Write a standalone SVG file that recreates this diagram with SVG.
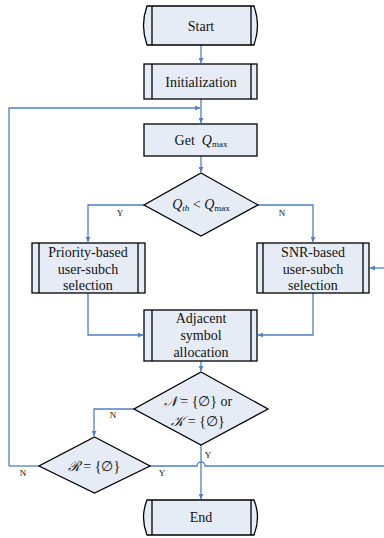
<svg xmlns="http://www.w3.org/2000/svg" width="384" height="538" viewBox="0 0 384 538">
<defs>
<marker id="ah" viewBox="0 0 10 10" refX="10" refY="5" markerWidth="5" markerHeight="5" orient="auto" markerUnits="userSpaceOnUse">
<path d="M0,0 L10,5 L0,10 Z" fill="#4f7fc6"/>
</marker>
<style>
.n{fill:#e6ecf6;stroke:#000;stroke-width:1.3}
.in{stroke:#000;stroke-width:1.3;fill:none}
.c{fill:none;stroke:#4f7fc6;stroke-width:1.3}
.t{font-family:"Liberation Serif","Times New Roman",serif;font-size:14px;fill:#111;text-anchor:middle}
.m{font-family:"Liberation Serif","Times New Roman",serif;font-style:italic}
.s{font-family:"Liberation Serif","Times New Roman",serif;font-size:9px;fill:#111;text-anchor:middle}
</style>
</defs>
<rect width="384" height="538" fill="#fff"/>
<g id="connectors">
<path class="c" d="M201,45 V63" marker-end="url(#ah)"/>
<path class="c" d="M201,99 V123" marker-end="url(#ah)"/>
<path class="c" d="M9,466 V108 H200" marker-end="url(#ah)"/>
<path class="c" d="M201,156 V172" marker-end="url(#ah)"/>
<path class="c" d="M144,205 H88 V242" marker-end="url(#ah)"/>
<path class="c" d="M258,205 H313 V242" marker-end="url(#ah)"/>
<path class="c" d="M88,293 V335 H143" marker-end="url(#ah)"/>
<path class="c" d="M313,293 V335 H258" marker-end="url(#ah)"/>
<path class="c" d="M384,268 H370" marker-end="url(#ah)"/>
<path class="c" d="M201,361 V371" marker-end="url(#ah)"/>
<path class="c" d="M134,409 H94 V436" marker-end="url(#ah)"/>
<path class="c" d="M201,445 V499" marker-end="url(#ah)"/>
<path class="c" d="M39,466 H9"/>
<path class="c" d="M150,466 H197 A4,4 0 0 1 205,466 H384"/>
<text class="s" x="120" y="216">Y</text>
<text class="s" x="282" y="216">N</text>
<text class="s" x="113" y="418">N</text>
<text class="s" x="208" y="458">Y</text>
<text class="s" x="23" y="476">N</text>
<text class="s" x="162" y="476">Y</text>
</g>
<g id="start">
<path class="n" d="M147,6 H254 Q261,25.5 254,45 H147 Q140,25.5 147,6 Z"/>
<path class="in" d="M152,6 V45 M251,6 V45"/>
<text class="t" x="201" y="31">Start</text>
</g>
<g id="init">
<rect class="n" x="144" y="64" width="113" height="35"/>
<path class="in" d="M152,64 V99 M251,64 V99"/>
<text class="t" x="201" y="87">Initialization</text>
</g>
<g id="getq">
<rect class="n" x="144" y="124" width="113" height="32"/>
<text class="t" x="201" y="145">Get&#160; <tspan class="m">Q</tspan><tspan font-size="9px" dy="2">max</tspan></text>
</g>
<g id="dec1">
<path class="n" d="M201,173 L258,205 L201,236 L144,205 Z"/>
<text class="t" x="201" y="209"><tspan class="m">Q</tspan><tspan class="m" font-size="9px" dy="2">th</tspan><tspan dy="-2"> &lt; </tspan><tspan class="m">Q</tspan><tspan font-size="9px" dy="2">max</tspan></text>
</g>
<g id="prio">
<rect class="n" x="32" y="243" width="113" height="50"/>
<path class="in" d="M39,243 V293 M138,243 V293"/>
<text class="t" x="88" y="257">Priority-based</text>
<text class="t" x="88" y="274">user-subch</text>
<text class="t" x="88" y="290">selection</text>
</g>
<g id="snr">
<rect class="n" x="257" y="243" width="112" height="50"/>
<path class="in" d="M263,243 V293 M363,243 V293"/>
<text class="t" x="313" y="257">SNR-based</text>
<text class="t" x="313" y="274">user-subch</text>
<text class="t" x="313" y="290">selection</text>
</g>
<g id="adj">
<rect class="n" x="144" y="310" width="113" height="51"/>
<path class="in" d="M152,310 V361 M251,310 V361"/>
<text class="t" x="201" y="323">Adjacent</text>
<text class="t" x="201" y="340">symbol</text>
<text class="t" x="201" y="357">allocation</text>
</g>
<g id="dec2">
<path class="n" d="M201,372 L268,409 L201,445 L134,409 Z"/>
<text class="t" x="198" y="406"><tspan class="m">𝒩</tspan> = {∅} or</text>
<text class="t" x="198" y="426"><tspan class="m">𝒦</tspan> = {∅}</text>
</g>
<g id="dec3">
<path class="n" d="M94.5,437 L150,466 L94.5,493 L39,466 Z"/>
<text class="t" x="94" y="471"><tspan class="m">ℛ</tspan> = {∅}</text>
</g>
<g id="end">
<path class="n" d="M147,500 H254 Q261,517.5 254,535 H147 Q140,517.5 147,500 Z"/>
<path class="in" d="M152,500 V535 M251,500 V535"/>
<text class="t" x="201" y="522">End</text>
</g>
</svg>
